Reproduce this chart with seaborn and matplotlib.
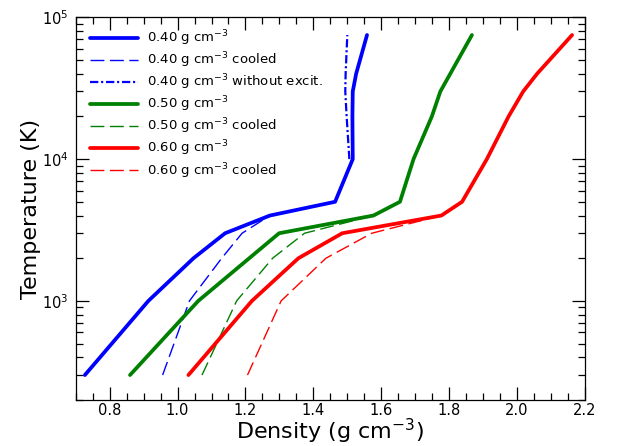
import numpy as np
import pandas as pd
import matplotlib
matplotlib.use("Agg")
import matplotlib.pyplot as plt
import matplotlib.ticker as mticker
import seaborn as sns

# ---- data ----
T_040 = [300, 1000, 2000, 3000, 4000, 5000, 10000, 20000, 30000, 40000, 75000]
d_040 = [0.727, 0.914, 1.047, 1.140, 1.272, 1.464, 1.516, 1.515, 1.516, 1.526, 1.558]

T_040c = [300, 1000, 2000, 3000, 4000]
d_040c = [0.956, 1.035, 1.130, 1.190, 1.272]

T_040n = [10000, 20000, 30000, 40000, 75000]
d_040n = [1.506, 1.498, 1.494, 1.495, 1.500]

T_050 = [300, 1000, 3000, 4000, 5000, 10000, 20000, 30000, 75000]
d_050 = [0.860, 1.061, 1.299, 1.577, 1.655, 1.695, 1.749, 1.774, 1.867]

T_050c = [300, 1000, 2000, 3000, 4000]
d_050c = [1.072, 1.174, 1.280, 1.374, 1.577]

T_060 = [300, 1000, 2000, 3000, 4000, 5000, 10000, 20000, 30000, 40000, 75000]
d_060 = [1.032, 1.219, 1.356, 1.485, 1.777, 1.838, 1.911, 1.975, 2.018, 2.059, 2.162]

T_060c = [300, 1000, 2000, 3000, 4000]
d_060c = [1.206, 1.305, 1.437, 1.572, 1.777]

labels = [
    "0.40 g cm$^{-3}$",
    "0.40 g cm$^{-3}$ cooled",
    "0.40 g cm$^{-3}$ without excit.",
    "0.50 g cm$^{-3}$",
    "0.50 g cm$^{-3}$ cooled",
    "0.60 g cm$^{-3}$",
    "0.60 g cm$^{-3}$ cooled",
]
x_ticks = [0.8, 1.0, 1.2, 1.4, 1.6, 1.8, 2.0, 2.2]

series = [
    (d_040, T_040), (d_040c, T_040c), (d_040n, T_040n),
    (d_050, T_050), (d_050c, T_050c),
    (d_060, T_060), (d_060c, T_060c),
]

sns.set_theme(style="ticks")
plt.rcParams["font.family"] = ["DejaVu Sans"]
plt.rcParams["lines.scale_dashes"] = False
plt.rcParams["text.color"] = "black"
plt.rcParams["axes.labelcolor"] = "black"

styles = [
    dict(color=(0, 0, 1), lw=2.7, dashes=None),
    dict(color=(0, 0, 1), lw=1.0, dashes=(10, 4)),
    dict(color=(0, 0, 1), lw=1.6, dashes=(6, 2, 1.5, 2)),
    dict(color=(0, 0.5, 0), lw=2.7, dashes=None),
    dict(color=(0, 0.5, 0), lw=1.0, dashes=(10, 4)),
    dict(color=(1, 0, 0), lw=2.7, dashes=None),
    dict(color=(1, 0, 0), lw=1.0, dashes=(10, 4)),
]

fig = plt.figure(figsize=(6.21, 4.46), dpi=100)
ax = fig.add_axes([0.1219, 0.1031, 0.8201, 0.8581])

for (d, T), lab, st in zip(series, labels, styles):
    df = pd.DataFrame({"Density": d, "Temperature": T})
    sns.lineplot(data=df, x="Density", y="Temperature", sort=False,
                 estimator=None, ax=ax, label=lab, color=st["color"],
                 lw=st["lw"])
    line = ax.get_lines()[-1]
    if st["dashes"] is not None:
        line.set_dashes(st["dashes"])

ax.set_yscale("log")
ax.set_xlim(0.7, 2.2)
ax.set_ylim(200, 1e5)
ax.set_xticks(x_ticks)
ax.set_xticklabels([f"{v:.1f}" for v in x_ticks])
ax.xaxis.set_minor_locator(mticker.MultipleLocator(0.05))
ax.yaxis.set_major_locator(mticker.LogLocator(base=10, numticks=10))
ax.yaxis.set_minor_locator(mticker.LogLocator(base=10, subs=np.arange(2, 10), numticks=20))
ax.yaxis.set_minor_formatter(mticker.NullFormatter())

ax.tick_params(which="both", direction="in", top=True, right=True, colors="black",
               width=0.9)
ax.tick_params(which="major", length=9.5, labelsize=10.5)
ax.tick_params(which="minor", length=4.8)
ax.tick_params(axis="x", which="major", pad=2.5)
ax.tick_params(axis="y", which="major", pad=5)
for s in ax.spines.values():
    s.set_linewidth(0.9)
    s.set_color("black")

ax.set_xlabel("Density (g cm$^{-3}$)", fontsize=16, labelpad=-1, color="black")
ax.set_ylabel("Temperature (K)", fontsize=16, labelpad=1, color="black")

leg = ax.legend(loc="upper left", bbox_to_anchor=(0.018, 0.985), borderaxespad=0,
                frameon=False, fontsize=9.5, handlelength=3.6,
                labelspacing=0.19, handletextpad=0.68, labelcolor="black")
for h, st in zip(leg.get_lines(), styles):
    if st["dashes"] is not None:
        h.set_dashes(st["dashes"])

fig.savefig("out.png", dpi=100)
